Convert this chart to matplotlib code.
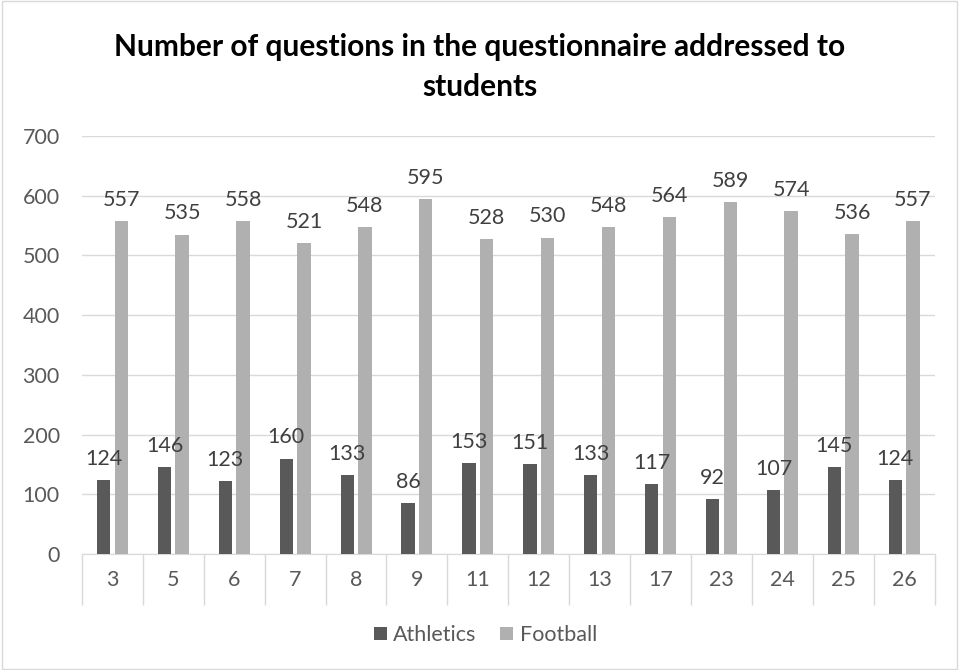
import numpy as np
import matplotlib.pyplot as plt
from matplotlib.patches import Rectangle

categories = ['3', '5', '6', '7', '8', '9', '11', '12', '13', '17', '23', '24', '25', '26']
athletics = [124, 146, 123, 160, 133, 86, 153, 151, 133, 117, 92, 107, 145, 124]
football = [557, 535, 558, 521, 548, 595, 528, 530, 548, 564, 589, 574, 536, 557]

plt.rcParams['font.family'] = ['Lato', 'DejaVu Sans']

fig = plt.figure(figsize=(9.59, 6.70), dpi=100)
ax = fig.add_axes([0.0855, 0.173, 0.889, 0.624])

x = np.arange(len(categories))
w = 0.22
off = 0.145
b1 = ax.bar(x - off, athletics, w, color='#595959', label='Athletics', zorder=3)
b2 = ax.bar(x + off, football, w, color='#b0b0b0', label='Football', zorder=3)

fs = 15.5
for bars in (b1, b2):
    for r in bars:
        ax.annotate(str(int(r.get_height())), (r.get_x() + r.get_width() / 2, r.get_height()),
                    xytext=(0, 8), textcoords='offset points', ha='center', va='bottom',
                    fontsize=fs, color='#404040')

ax.set_xlim(-0.5, len(categories) - 0.5)
ax.set_ylim(0, 700)
ax.set_yticks(range(0, 701, 100))
ax.yaxis.grid(True, color='#d9d9d9', linewidth=1, zorder=0)
ax.tick_params(axis='y', length=0, labelsize=fs, labelcolor='#595959', pad=16)
for s in ['top', 'right', 'left']:
    ax.spines[s].set_visible(False)
ax.spines['bottom'].set_color('#d9d9d9')

# category separators extending below the axis
ax.set_xticks(np.arange(-0.5, len(categories)))
ax.set_xticklabels([])
ax.tick_params(axis='x', length=37, color='#d9d9d9', width=1)
for i, c in enumerate(categories):
    ax.text(i, -44, c, ha='center', va='center', fontsize=fs, color='#595959')

fig.text(0.5, 0.9, 'Number of questions in the questionnaire addressed to\nstudents',
         ha='center', va='center', fontsize=21.5, fontweight='bold', color='black',
         linespacing=1.5)

fig.legend(handles=[b1, b2], loc='center', bbox_to_anchor=(0.506, 0.052), ncol=2,
           frameon=False, fontsize=fs, labelcolor='#595959', handlelength=0.6,
           handleheight=0.6, handletextpad=0.3, columnspacing=1.1)

fig.patches.append(Rectangle((0.002, 0.002), 0.996, 0.996, transform=fig.transFigure,
                             fill=False, edgecolor='#d9d9d9', linewidth=1))

fig.savefig('out.png', dpi=100)
